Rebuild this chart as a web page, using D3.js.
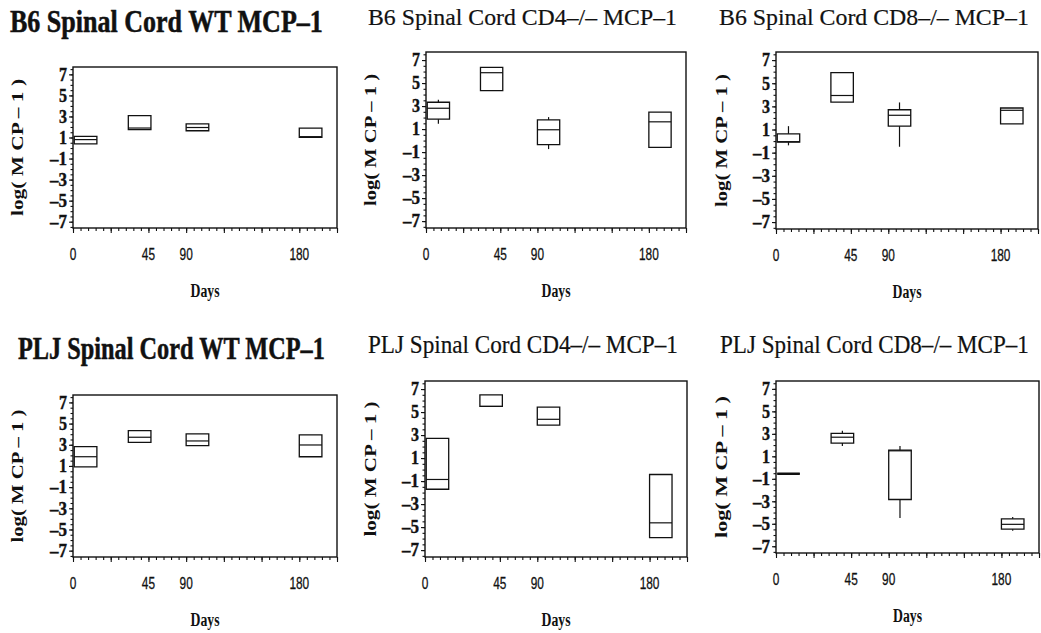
<!DOCTYPE html>
<html>
<head>
<meta charset="utf-8">
<script src="https://cdn.jsdelivr.net/npm/d3@7"></script>
<style>
  body { margin: 0; background: #fff; }
  svg { display: block; }
</style>
</head>
<body>
<div id="chart"></div>
<script>
// day labels and where SAS put them on the axis
var xTickAt = [0, 60, 90, 180];
var xTickText = ['0', '45', '90', '180'];
var boxDay = [10, 53, 99, 189];   // centre of each box on the day axis
var yTicks = [-7, -5, -3, -1, 1, 3, 5, 7];

var titles = [
  'B6 Spinal Cord WT MCP\u20131',
  'B6 Spinal Cord CD4\u2013/\u2013 MCP\u20131',
  'B6 Spinal Cord CD8\u2013/\u2013 MCP\u20131',
  'PLJ Spinal Cord WT MCP\u20131',
  'PLJ Spinal Cord CD4\u2013/\u2013 MCP\u20131',
  'PLJ Spinal Cord CD8\u2013/\u2013 MCP\u20131'
];

// log(MCP-1) box statistics: whisker low, q1, median, q3, whisker high
var b6WtLo   = [0.4, 1.74, 1.64, 1.02];
var b6WtQ1   = [0.4, 1.74, 1.64, 1.02];
var b6WtMed  = [0.8, 1.9, 1.95, 1.08];
var b6WtQ3   = [1.1, 3.08, 2.3, 1.9];
var b6WtHi   = [1.1, 3.08, 2.3, 1.9];

var b6Cd4Lo  = [1.46, 4.34, -0.74, -0.59];
var b6Cd4Q1  = [1.86, 4.34, -0.36, -0.59];
var b6Cd4Med = [2.81, 5.9, 0.94, 1.63];
var b6Cd4Q3  = [3.33, 6.37, 1.8, 2.47];
var b6Cd4Hi  = [3.54, 6.37, 2.04, 2.47];

var b6Cd8Lo  = [-0.37, 3.37, -0.49, 1.49];
var b6Cd8Q1  = [-0.09, 3.37, 1.29, 1.49];
var b6Cd8Med = [-0.05, 3.94, 2.23, 2.66];
var b6Cd8Q3  = [0.63, 5.91, 2.71, 2.86];
var b6Cd8Hi  = [1.29, 5.91, 3.34, 2.86];

var pljWtLo  = [0.92, 3.23, 2.91, 1.87];
var pljWtQ1  = [0.92, 3.23, 2.91, 1.87];
var pljWtMed = [1.87, 3.71, 3.36, 2.98];
var pljWtQ3  = [2.82, 4.34, 4.02, 3.93];
var pljWtHi  = [2.82, 4.34, 4.02, 3.93];

var pljCd4Lo  = [-1.71, 5.49, 3.86, -5.91];
var pljCd4Q1  = [-1.71, 5.49, 3.86, -5.91];
var pljCd4Med = [-0.86, 5.49, 4.37, -4.63];
var pljCd4Q3  = [2.71, 6.49, 5.43, -0.43];
var pljCd4Hi  = [2.71, 6.49, 5.43, -0.43];

var pljCd8Lo  = [-0.55, 1.92, -4.48, -5.62];
var pljCd8Q1  = [-0.55, 2.18, -2.84, -5.48];
var pljCd8Med = [-0.55, 2.7, 1.49, -5.05];
var pljCd8Q3  = [-0.55, 3.04, 1.55, -4.56];
var pljCd8Hi  = [-0.55, 3.27, 1.92, -4.39];

var series = [
  [b6WtLo, b6WtQ1, b6WtMed, b6WtQ3, b6WtHi],
  [b6Cd4Lo, b6Cd4Q1, b6Cd4Med, b6Cd4Q3, b6Cd4Hi],
  [b6Cd8Lo, b6Cd8Q1, b6Cd8Med, b6Cd8Q3, b6Cd8Hi],
  [pljWtLo, pljWtQ1, pljWtMed, pljWtQ3, pljWtHi],
  [pljCd4Lo, pljCd4Q1, pljCd4Med, pljCd4Q3, pljCd4Hi],
  [pljCd8Lo, pljCd8Q1, pljCd8Med, pljCd8Q3, pljCd8Hi]
];

// panel frames, title placement (pixels)
var frames = [
  {l: 73,  r: 337,  t: 67,  b: 228, tx: 10,  tw: 313, ty: 32,  bold: true,  fs: 31, yl: 17,  yw: 137},
  {l: 426, r: 686,  t: 52,  b: 228, tx: 368, tw: 309, ty: 25,  bold: false, fs: 24, yl: 370, yw: 132},
  {l: 776, r: 1038, t: 52,  b: 229, tx: 719, tw: 310, ty: 25,  bold: false, fs: 24, yl: 721, yw: 133},
  {l: 73,  r: 337,  t: 395, b: 557, tx: 18,  tw: 307, ty: 359, bold: true,  fs: 31, yl: 17,  yw: 133},
  {l: 425, r: 687,  t: 381, b: 557, tx: 368, tw: 310, ty: 353, bold: false, fs: 25, yl: 370, yw: 135},
  {l: 776, r: 1039, t: 381, b: 553, tx: 720, tw: 309, ty: 353, bold: false, fs: 25, yl: 721, yw: 142}
];

var W = 1041, H = 633
  , boxHalf = 9          // half box width in days
  , ink = '#111'
  , serif = '"Liberation Serif", "Times New Roman", serif'
  , sans = '"Liberation Sans", Arial, sans-serif';

var svg = d3.select('#chart').append('svg')
    .attr('width', W)
    .attr('height', H);

// squeeze a text sideways so it is w pixels wide (condensed SAS fonts)
function squeeze(sel, w, pre, post) {
  var n = sel.node().getComputedTextLength();
  sel.attr('transform', pre + ' scale(' + (w / n) + ',1)' + (post || ''));
}

frames.forEach(function (f, pi) {
  var s = series[pi];
  var x = d3.scaleLinear().domain([0, 210]).range([f.l, f.r]);
  var y = d3.scaleLinear().domain([-7.6, 7.7]).range([f.b, f.t]);
  var g = svg.append('g');

  // title
  var tt = g.append('text')
      .attr('font-family', serif)
      .attr('font-size', f.fs)
      .attr('font-weight', f.bold ? 'bold' : 'normal')
      .attr('fill', ink)
      .attr('stroke', ink)
      .attr('stroke-width', f.bold ? 0.5 : 0.2)
      .text(titles[pi]);
  squeeze(tt, f.tw, 'translate(' + f.tx + ',' + f.ty + ')');

  // minor + major x ticks
  g.append('g')
      .attr('transform', 'translate(0,' + f.b + ')')
      .call(d3.axisBottom(x).tickValues(d3.range(0, 211, 6)).tickSize(3).tickFormat(''))
      .call(function (a) { a.select('.domain').remove(); });
  g.append('g')
      .attr('transform', 'translate(0,' + f.b + ')')
      .call(d3.axisBottom(x).tickValues(d3.range(0, 211, 30)).tickSize(5).tickFormat(''))
      .call(function (a) { a.select('.domain').remove(); });

  // y ticks
  g.append('g')
      .attr('transform', 'translate(' + f.l + ',0)')
      .call(d3.axisLeft(y).tickValues(d3.range(-7.5, 7.6, 0.5)).tickSize(2.5).tickFormat(''))
      .call(function (a) { a.select('.domain').remove(); });
  var ya = g.append('g')
      .attr('transform', 'translate(' + f.l + ',0)')
      .call(d3.axisLeft(y).tickValues(yTicks).tickSize(4).tickPadding(2)
        .tickFormat(function (d) { return d < 0 ? '\u2013' + Math.abs(d) : d; }))
      .call(function (a) { a.select('.domain').remove(); });
  ya.attr('font-family', serif).attr('font-size', 18).attr('font-weight', 'bold');
  ya.selectAll('text')
      .attr('fill', ink)
      .attr('stroke', ink)
      .attr('stroke-width', 0.4)
      .attr('textLength', function (d) { return d < 0 ? 17 : 8; })
      .attr('lengthAdjust', 'spacingAndGlyphs');
  g.selectAll('.tick line').attr('stroke', ink).attr('stroke-width', 1.1);

  // x tick labels
  g.selectAll('text.xlab')
      .data(xTickAt)
    .enter().append('text')
      .attr('class', 'xlab')
      .attr('x', function (d) { return x(d); })
      .attr('y', f.b + 32)
      .attr('text-anchor', 'middle')
      .attr('textLength', function (d, i) { return xTickText[i].length * 6.6; })
      .attr('lengthAdjust', 'spacingAndGlyphs')
      .attr('font-family', sans)
      .attr('font-size', 17)
      .attr('fill', ink)
      .attr('stroke', ink)
      .attr('stroke-width', 0.3)
      .text(function (d, i) { return xTickText[i]; });

  // axis titles
  g.append('text')
      .attr('x', (f.l + f.r) / 2)
      .attr('y', f.b + 69)
      .attr('text-anchor', 'middle')
      .attr('textLength', 29)
      .attr('lengthAdjust', 'spacingAndGlyphs')
      .attr('font-family', serif)
      .attr('font-size', 18)
      .attr('font-weight', 'bold')
      .attr('fill', ink)
      .text('Days');

  g.append('text')
      .attr('transform', 'translate(' + (f.yl + 6) + ',' + ((f.t + f.b) / 2) + ') rotate(-90)')
      .attr('text-anchor', 'middle')
      .attr('textLength', f.yw)
      .attr('lengthAdjust', 'spacingAndGlyphs')
      .attr('font-family', serif)
      .attr('font-size', 16)
      .attr('font-weight', 'bold')
      .attr('fill', ink)
      .text('log( M CP \u2013 1 )');

  // frame
  g.append('rect')
      .attr('x', f.l)
      .attr('y', f.t)
      .attr('width', f.r - f.l)
      .attr('height', f.b - f.t)
      .attr('fill', 'none')
      .attr('stroke', ink)
      .attr('stroke-width', 1.4);

  // boxes
  var boxes = g.selectAll('g.box')
      .data(boxDay)
    .enter().append('g')
      .attr('class', 'box');

  boxes.append('line')
      .attr('x1', function (d) { return x(d); })
      .attr('x2', function (d) { return x(d); })
      .attr('y1', function (d, i) { return y(s[4][i]); })
      .attr('y2', function (d, i) { return y(s[3][i]); })
      .attr('stroke', ink).attr('stroke-width', 1.2);
  boxes.append('line')
      .attr('x1', function (d) { return x(d); })
      .attr('x2', function (d) { return x(d); })
      .attr('y1', function (d, i) { return y(s[1][i]); })
      .attr('y2', function (d, i) { return y(s[0][i]); })
      .attr('stroke', ink).attr('stroke-width', 1.2);

  boxes.append('path')
      .attr('d', function (d, i) {
        var x0 = x(d - boxHalf), x1 = x(d + boxHalf)
          , y0 = y(s[3][i]), y1 = y(s[1][i]);
        return 'M' + x0 + ',' + y0 + 'H' + x1 + 'V' + y1 + 'H' + x0 + 'Z';
      })
      .attr('fill', 'none')
      .attr('stroke', ink)
      .attr('stroke-width', function (d, i) { return s[3][i] === s[1][i] ? 2.4 : 1.3; });

  boxes.append('line')
      .attr('x1', function (d) { return x(d - boxHalf); })
      .attr('x2', function (d) { return x(d + boxHalf); })
      .attr('y1', function (d, i) { return y(s[2][i]); })
      .attr('y2', function (d, i) { return y(s[2][i]); })
      .attr('stroke', ink).attr('stroke-width', 1.2);
});
</script>
</body>
</html>
